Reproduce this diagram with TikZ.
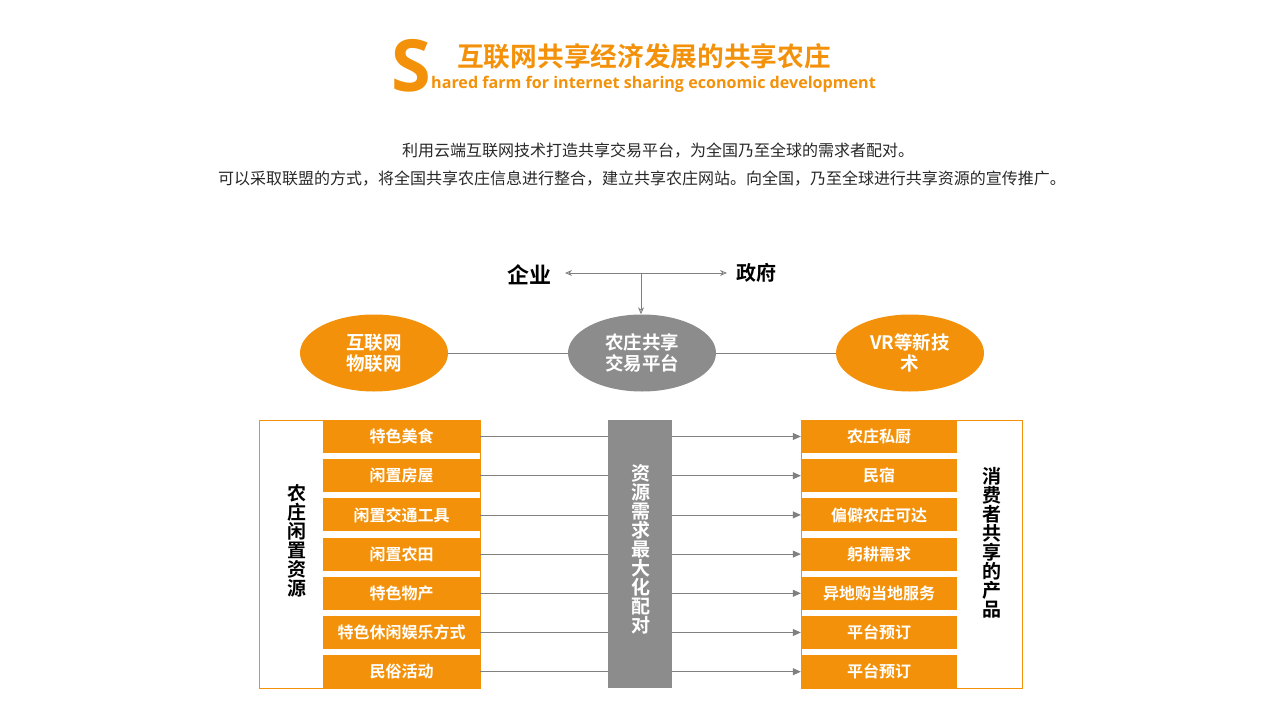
\documentclass[tikz,border=0pt]{standalone}
\usepackage{fontspec}
\setmainfont{Noto Sans CJK SC}
\newfontfamily\cjkb{Noto Sans CJK SC Bold}
\newfontfamily\enb{Open Sans Bold}
\usetikzlibrary{shapes.geometric,arrows.meta}
\definecolor{orng}{RGB}{243,146,10}
\definecolor{gry}{RGB}{140,140,140}
\definecolor{lgry}{RGB}{128,128,128}
\definecolor{txt}{RGB}{40,40,40}
\begin{document}
\begin{tikzpicture}[x=1pt,y=-1pt,
  rowbox/.style={fill=orng,text=white,minimum height=33pt,inner sep=0pt,font=\cjkb\fontsize{16}{16}\selectfont},
  lrow/.style={rowbox,minimum width=157pt},
  rrow/.style={rowbox,minimum width=156pt},
  ovalbox/.style={ellipse,fill=#1,text=white,minimum width=148pt,minimum height=77pt,inner sep=0pt,align=center,font=\cjkb\fontsize{18.5}{21}\selectfont},
  outline/.style={draw=orng,line width=0.8pt,minimum height=268pt,inner sep=0pt},
  conn/.style={draw=lgry,line width=0.8pt},
  arr/.style={conn,-{Triangle[length=8pt,width=7pt]}},
  vtext/.style={align=center,inner sep=0pt,font=\cjkb\fontsize{19}{19}\selectfont}
]
\useasboundingbox (0,0) rectangle (1280,720);
\fill[white] (0,0) rectangle (1280,720);
% title
\node[anchor=west,inner sep=0pt,text=orng,font=\enb\fontsize{72}{72}\selectfont] (S) at (391,66) {S};
\node[anchor=west,inner sep=0pt,text=orng,font=\cjkb\fontsize{26.7}{26.7}\selectfont] (title) at (457,56) {互联网共享经济发展的共享农庄};
\node[anchor=west,inner sep=0pt,text=orng,font=\enb\fontsize{16.1}{16.1}\selectfont] (sub) at (431,84) {hared farm for internet sharing economic development};
% body text
\node[inner sep=0pt,text=txt,font=\fontsize{16}{16}\selectfont] (t1) at (658,151) {利用云端互联网技术打造共享交易平台，为全国乃至全球的需求者配对。};
\node[inner sep=0pt,text=txt,font=\fontsize{16}{16}\selectfont] (t2) at (642,179) {可以采取联盟的方式，将全国共享农庄信息进行整合，建立共享农庄网站。向全国，乃至全球进行共享资源的宣传推广。};
% top
\node[inner sep=0pt,font=\cjkb\fontsize{22}{22}\selectfont] (qy) at (529,275) {企业};
\node[inner sep=0pt,font=\cjkb\fontsize{20}{20}\selectfont] (zf) at (756,273) {政府};
\coordinate (qyE) at (565,273);
\coordinate (zfW) at (727,273);
\coordinate (mid) at (641,273);
\draw[conn,{Stealth[length=7pt,width=6pt,open]}-{Stealth[length=7pt,width=6pt,open]}] (qyE) -- (zfW);
% ellipses
\node[ovalbox=orng] (e1) at (374,353) {互联网\\物联网};
\node[ovalbox=gry] (e2) at (642,353) {农庄共享\\交易平台};
\node[ovalbox=orng] (e3) at (910,353) {VR等新技\\术};
\draw[conn,-{Stealth[length=7pt,width=6pt,open]}] (mid) -- (e2.north -| mid);
\draw[conn] (e1.east) -- (e2.west);
\draw[conn] (e2.east) -- (e3.west);
% boxes
\node[outline,minimum width=221pt] (Lbox) at (369.5,554) {};
\node[outline,minimum width=221pt] (Rbox) at (911.5,554) {};
\node[fill=gry,minimum width=64pt,minimum height=268pt,inner sep=0pt] (bar) at (640,554) {};
\node[vtext,text=white] (bart) at (641,549) {资\\源\\需\\求\\最\\大\\化\\配\\对};
\node[vtext] (lt) at (297,541) {农\\庄\\闲\\置\\资\\源};
\node[vtext] (rt) at (992,543) {消\\费\\者\\共\\享\\的\\产\\品};
% rows
\foreach \i/\a/\b in {0/特色美食/农庄私厨,1/闲置房屋/民宿,2/闲置交通工具/偏僻农庄可达,3/闲置农田/躬耕需求,4/特色物产/异地购当地服务,5/特色休闲娱乐方式/平台预订,6/民俗活动/平台预订}{
  \node[lrow] (L\i) at (401.5,{436.5+39.2*\i}) {\a};
  \node[rrow] (R\i) at (879,{436.5+39.2*\i}) {\b};
  \draw[conn] (L\i.east) -- (L\i.east -| bar.west);
  \draw[arr] (R\i.west -| bar.east) -- (R\i.west);
}
\end{tikzpicture}
\end{document}
